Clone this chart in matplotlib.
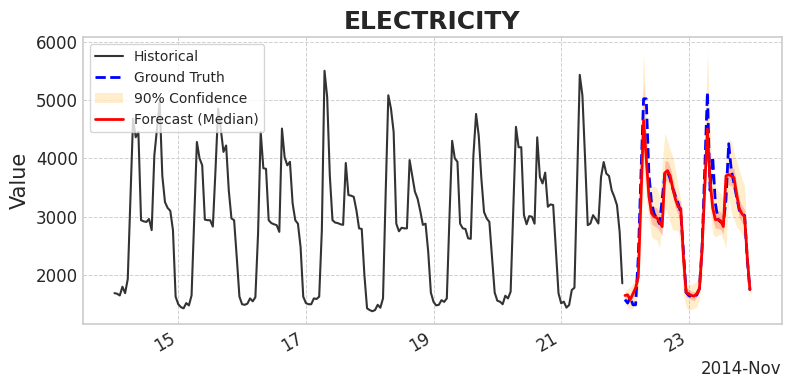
import numpy as np
import pandas as pd
import matplotlib
matplotlib.use("Agg")
import matplotlib.pyplot as plt
import matplotlib.dates as mdates
from matplotlib.patches import Patch
from matplotlib.lines import Line2D

# hourly load, Nov 14 00:00 .. Nov 21 23:00
hist_vals = [
    1690, 1680, 1650, 1800, 1690, 1930, 3300, 4680, 4360, 4450, 2940, 2920,
    2910, 2960, 2770, 4050, 4500, 4960, 3700, 3250, 3150, 3100, 2770, 1630,
    1500, 1450, 1430, 1520, 1480, 1650, 2970, 4280, 4000, 3880, 2950, 2940,
    2940, 2830, 3800, 4850, 4500, 4110, 4220, 3450, 2970, 2940, 2300, 1630,
    1500, 1490, 1510, 1600, 1550, 1620, 2700, 4450, 3830, 3820, 2940, 2890,
    2870, 2855, 2740, 4510, 4020, 3880, 3940, 3230, 2940, 2880, 2480, 1630,
    1520, 1500, 1500, 1600, 1590, 1630, 2770, 5500, 5050, 3700, 2940, 2900,
    2890, 2870, 2860, 3920, 3370, 3360, 3340, 3110, 2800, 2790, 2000, 1430,
    1400, 1380, 1400, 1490, 1440, 1600, 3400, 5080, 4850, 4450, 2880, 2750,
    2810, 2800, 2800, 3970, 3700, 3430, 3310, 3100, 2860, 2880, 2400, 1700,
    1540, 1480, 1490, 1570, 1540, 1600, 3000, 4300, 4000, 3940, 2880, 2800,
    2790, 2630, 2620, 4050, 4760, 4390, 3650, 3080, 2970, 2910, 2300, 1700,
    1560, 1544, 1500, 1646, 1600, 1715, 3100, 4540, 4190, 4190, 3030, 2870,
    3010, 3000, 2880, 4360, 3680, 3570, 3755, 3170, 3210, 3200, 2430, 1690,
    1516, 1544, 1442, 1487, 1744, 1783, 3600, 5430, 5077, 3995, 2855, 2883,
    3026, 2960, 2883, 3680, 3937, 3738, 3698, 3453, 3339, 3197, 2740, 1858,
]

# Nov 22 00:00 .. Nov 23 23:00
truth_vals = [
    1580, 1520, 1620, 1490, 1490, 2300, 3700, 5020, 5020, 3740, 3230, 3050,
    2970, 2880, 3300, 3740, 3770, 3650, 3480, 3350, 3230, 3060, 2400, 1700,
    1650, 1630, 1640, 1660, 1770, 2480, 3800, 5130, 3450, 4020, 3230, 2950,
    2910, 2880, 3300, 4250, 3800, 3570, 3340, 3110, 3060, 3020, 2260, 1740,
]
median_vals = [
    1650, 1660, 1580, 1680, 1780, 1970, 3300, 4650, 4000, 3350, 3060, 3000,
    2980, 2910, 2830, 3750, 3790, 3700, 3480, 3300, 3170, 3140, 2300, 1700,
    1680, 1650, 1640, 1680, 1760, 2450, 3500, 4500, 3620, 3150, 2950, 2950,
    2930, 2830, 3700, 3720, 3700, 3670, 3380, 3140, 3050, 3000, 2300, 1750,
]
q05_vals = [
    1510, 1450, 1420, 1430, 1530, 1700, 2500, 3800, 3300, 2950, 2650, 2620,
    2600, 2460, 2900, 3170, 3060, 2900, 2770, 2770, 2750, 2480, 1650, 1450,
    1400, 1410, 1430, 1450, 1600, 2000, 3100, 4190, 3100, 2710, 2650, 2680,
    2710, 2600, 2460, 3340, 3080, 2950, 2830, 2770, 2700, 2660, 2200, 1540,
]
q95_vals = [
    1720, 1760, 1800, 1860, 1950, 2250, 4300, 5830, 4700, 3650, 3520, 3520,
    3500, 3350, 3900, 4430, 4300, 4150, 4020, 3800, 3520, 3300, 2200, 1850,
    1830, 1830, 1860, 1900, 1970, 2300, 4300, 5850, 4500, 3650, 3520, 3450,
    3400, 3290, 4000, 4340, 4290, 4100, 3950, 3800, 3650, 3520, 2600, 1900,
]
q25_vals = [
    1600, 1610, 1520, 1620, 1710, 1880, 3050, 4300, 3650, 3120, 2880, 2840,
    2820, 2750, 2680, 3600, 3620, 3550, 3350, 3150, 3030, 3010, 2150, 1620,
    1610, 1580, 1560, 1620, 1700, 2250, 3250, 4200, 3400, 2960, 2800, 2800,
    2780, 2700, 3520, 3550, 3530, 3500, 3220, 2980, 2900, 2850, 2200, 1700,
]
q75_vals = [
    1690, 1700, 1640, 1740, 1840, 2080, 3600, 5300, 4200, 3480, 3200, 3170,
    3150, 3050, 3000, 3950, 3960, 3850, 3650, 3450, 3300, 3260, 2400, 1770,
    1760, 1730, 1710, 1760, 1840, 2600, 3800, 4850, 3850, 3330, 3110, 3110,
    3080, 2950, 3860, 3880, 3850, 3820, 3550, 3300, 3190, 3120, 2400, 1800,
]

hist_t = pd.date_range("2014-11-14 00:00", periods=len(hist_vals), freq="h")
fc_t = pd.date_range("2014-11-22 00:00", periods=len(median_vals), freq="h")

plt.style.use("seaborn-v0_8-whitegrid")
plt.rcParams["font.family"] = ["DejaVu Sans"]

fig = plt.figure(figsize=(7.92, 3.85), dpi=100)
ax = fig.add_axes([0.1044, 0.1577, 0.8826, 0.7454])

ax.plot(hist_t, hist_vals, color="#333333", lw=1.5, zorder=3)
ax.fill_between(fc_t, q05_vals, q95_vals, color="orange", alpha=0.2, lw=0, zorder=2)
ax.fill_between(fc_t, q25_vals, q75_vals, color="red", alpha=0.2, lw=0, zorder=2)
ax.plot(fc_t, truth_vals, color="blue", ls="--", lw=2, zorder=4)
ax.plot(fc_t, median_vals, color="red", lw=2, zorder=5)

handles = [
    Line2D([], [], color="#333333", lw=1.5),
    Line2D([], [], color="blue", ls="--", lw=2),
    Patch(facecolor="orange", alpha=0.2, lw=0),
    Line2D([], [], color="red", lw=2),
]
labels = ["Historical", "Ground Truth", "90% Confidence", "Forecast (Median)"]
ax.legend(handles, labels, loc="upper left", fontsize=10, frameon=True,
          framealpha=0.8, facecolor="white", edgecolor="#cccccc")

loc = mdates.AutoDateLocator(maxticks=8)
ax.xaxis.set_major_locator(loc)
ax.xaxis.set_major_formatter(mdates.ConciseDateFormatter(loc))
for lab in ax.get_xticklabels():
    lab.set_rotation(30)
    lab.set_ha("right")

ax.grid(True, ls="--", color="#d0d0d0", lw=0.7)
for s in ax.spines.values():
    s.set_color("#cccccc")
    s.set_linewidth(1.2)
ax.tick_params(labelsize=12, colors="#262626", length=0)
ax.xaxis.get_offset_text().set_fontsize(12)

ax.set_ylabel("Value", fontsize=15)
ax.set_title("ELECTRICITY", fontsize=18, fontweight="bold", color="#262626")

fig.savefig("out.png", dpi=100)
